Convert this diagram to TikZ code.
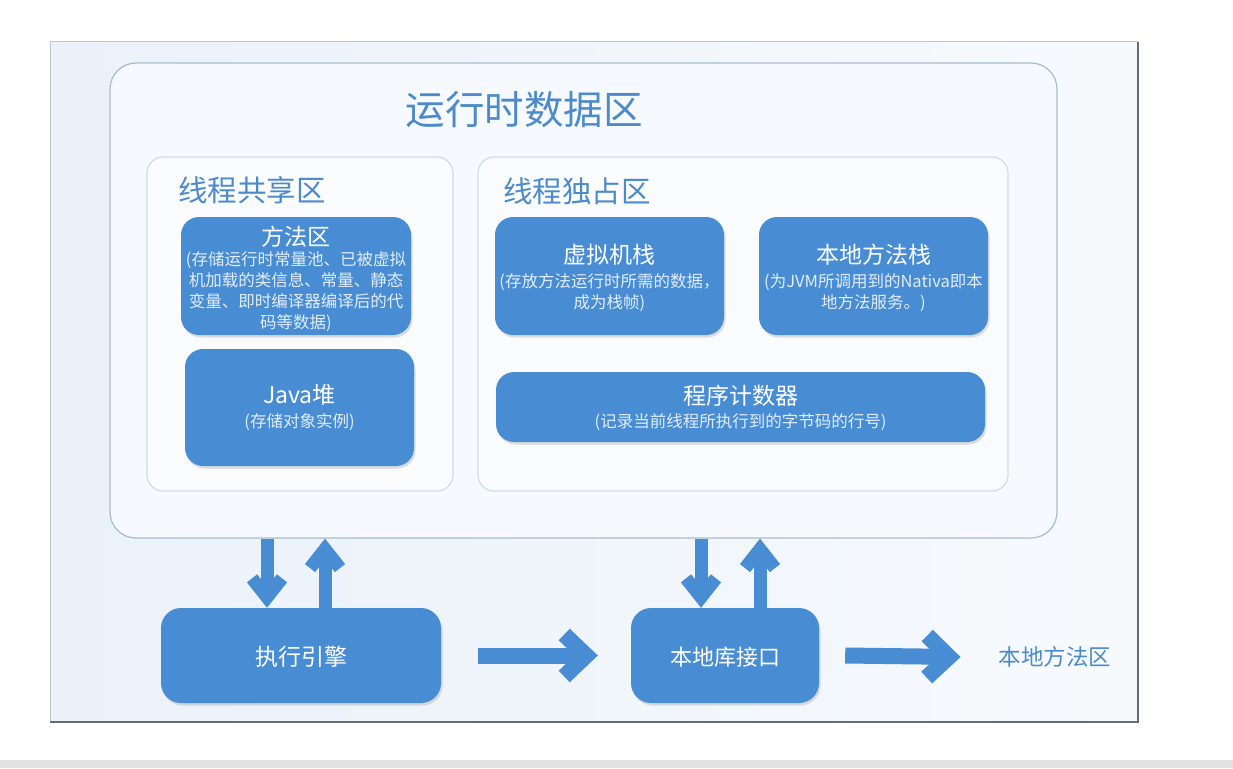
\documentclass[tikz,border=0pt]{standalone}
\usepackage{fontspec}
\setmainfont{Noto Sans CJK SC}
\usetikzlibrary{arrows.meta,shadows}
\definecolor{boxblue}{RGB}{72,141,212}
\definecolor{titleblue}{RGB}{76,138,202}
\definecolor{subwhite}{RGB}{226,237,249}
\definecolor{slideL}{RGB}{234,241,249}
\definecolor{slideR}{RGB}{247,250,253}
\definecolor{rdafill}{RGB}{246,249,253}
\definecolor{rdaline}{RGB}{168,188,208}
\definecolor{zonefill}{RGB}{250,251,253}
\definecolor{zoneline}{RGB}{208,220,232}
\definecolor{frameL}{RGB}{190,198,206}
\definecolor{frameD}{RGB}{100,108,116}
\definecolor{band}{RGB}{226,226,226}
\tikzset{
  bluebox/.style={fill=boxblue, rounded corners=18pt, inner sep=0pt,
    drop shadow={shadow xshift=1.5pt, shadow yshift=-2.5pt, opacity=0.25, fill=gray}},
  boxtitle/.style={text=white, font=\fontsize{23}{27}\selectfont, inner sep=0pt},
  boxsub/.style={text=subwhite, font=\fontsize{16.5}{21}\selectfont, align=center, inner sep=0pt},
  zonebox/.style={draw=zoneline, line width=1.2pt, fill=zonefill, rounded corners=16pt, inner sep=0pt},
  zonetitle/.style={text=titleblue, font=\fontsize{29.5}{33}\selectfont, inner sep=0pt},
  varrow/.style={draw=boxblue, line width=13pt, -{Straight Barb[length=19pt,width=30pt]}},
  harrow/.style={draw=boxblue, line width=16pt, -{Straight Barb[length=22pt,width=42pt]}},
}
\begin{document}
\begin{tikzpicture}[x=1pt,y=-1pt]
\useasboundingbox (0,0) rectangle (1233,768);
\fill[white] (0,0) rectangle (1233,768);
\fill[band] (0,760) rectangle (1233,768);
% slide
\shade[left color=slideL, right color=slideR] (50,42) rectangle (1138,722);
\draw[frameL, line width=1pt] (50,722) -- (50,42) -- (1138,42);
\draw[frameD, line width=2pt] (1138,42) -- (1138,722) -- (50,722);
% runtime data area
\node[draw=rdaline, line width=1.2pt, fill=rdafill, rounded corners=26pt, minimum width=947pt, minimum height=475pt, inner sep=0pt] (rda) at (583.5,300.5) {};
\node[text=titleblue, font=\fontsize{39.5}{43}\selectfont, inner sep=0pt] (rdat) at (524,110) {运行时数据区};
% zones
\node[zonebox, minimum width=306pt, minimum height=334pt] (shared) at (300,324) {};
\node[zonetitle] (sharedt) at (252,190) {线程共享区};
\node[zonebox, minimum width=530pt, minimum height=334pt] (private) at (743,324) {};
\node[zonetitle] (privatet) at (577,191) {线程独占区};
% method area
\node[bluebox, minimum width=230pt, minimum height=118pt] (ma) at (296,276) {};
\node[boxtitle] (mat) at (296,237) {方法区};
\node[boxsub] (mas) at (296,292) {(存储运行时常量池、已被虚拟\\机加载的类信息、常量、静态\\变量、即时编译器编译后的代\\码等数据)};
% heap
\node[bluebox, minimum width=229pt, minimum height=117pt] (heap) at (299.5,407.5) {};
\node[boxtitle] (heapt) at (299.5,395) {Java堆};
\node[boxsub] (heaps) at (299.5,422) {(存储对象实例)};
% vm stack
\node[bluebox, minimum width=229pt, minimum height=118pt] (vms) at (609.5,276) {};
\node[boxtitle] (vmst) at (609.5,255) {虚拟机栈};
\node[boxsub] (vmss) at (609.5,293) {(存放方法运行时所需的数据，\\成为栈帧)};
% native method stack
\node[bluebox, minimum width=229pt, minimum height=118pt] (nms) at (873.5,276) {};
\node[boxtitle] (nmst) at (873.5,255) {本地方法栈};
\node[boxsub] (nmss) at (873.5,293) {(为JVM所调用到的Nativa即本\\地方法服务。)};
% program counter
\node[bluebox, minimum width=489pt, minimum height=70pt] (pc) at (740.5,407) {};
\node[boxtitle] (pct) at (740.5,396) {程序计数器};
\node[boxsub] (pcs) at (740.5,422) {(记录当前线程所执行到的字节码的行号)};
% bottom
\node[bluebox, minimum width=280pt, minimum height=95pt, rounded corners=20pt] (engine) at (301,655.5) {};
\node[boxtitle, font=\fontsize{23}{27}\selectfont] (enginet) at (301,657) {执行引擎};
\node[bluebox, minimum width=188pt, minimum height=95pt, rounded corners=20pt] (lib) at (725,655.5) {};
\node[boxtitle, font=\fontsize{22}{26}\selectfont] (libt) at (725,657) {本地库接口};
\node[text=titleblue, font=\fontsize{22.5}{26}\selectfont, inner sep=0pt] (nma) at (1055,657) {本地方法区};
% vertical arrows
\coordinate (d1) at (267,0);
\coordinate (u1) at (325,0);
\coordinate (d2) at (701,0);
\coordinate (u2) at (760,0);
\draw[varrow] (d1 |- rda.south) -- (d1 |- engine.north);
\draw[varrow] (u1 |- engine.north) -- (u1 |- rda.south);
\draw[varrow] (d2 |- rda.south) -- (d2 |- lib.north);
\draw[varrow] (u2 |- lib.north) -- (u2 |- rda.south);
% horizontal arrows
\draw[harrow] ([xshift=37pt]engine.east) -- ([xshift=-33pt]lib.west);
\draw[harrow] ([xshift=26pt]lib.east) -- ([xshift=-38pt]nma.west);
\end{tikzpicture}
\end{document}
